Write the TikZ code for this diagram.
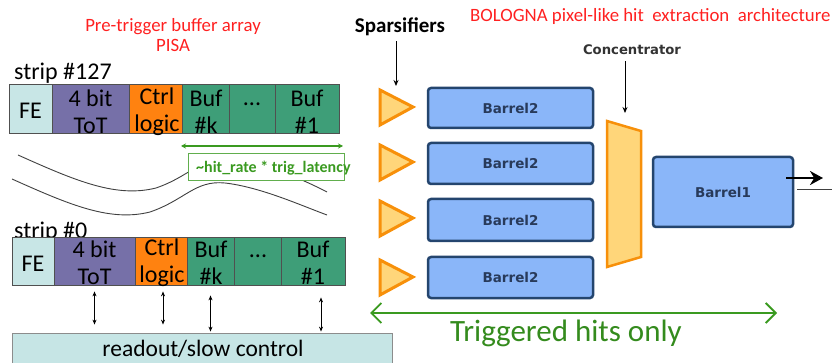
\documentclass[tikz,border=0pt]{standalone}
\usepackage{fontspec}
\setmainfont{Carlito}
\newfontfamily\dvfont{DejaVu Sans}
\usetikzlibrary{fit,arrows.meta,calc}
\definecolor{fecol}{HTML}{C8E6E6}
\definecolor{totcol}{HTML}{7670A8}
\definecolor{ctrlcol}{HTML}{FF8210}
\definecolor{bufcol}{HTML}{3E9E78}
\definecolor{bordcol}{HTML}{505050}
\definecolor{barfill}{HTML}{8AB6F9}
\definecolor{bardraw}{HTML}{24456E}
\definecolor{bartext}{HTML}{283A5A}
\definecolor{triorange}{HTML}{F7900A}
\definecolor{trifill}{HTML}{FFD67A}
\definecolor{titred}{HTML}{FF2020}
\definecolor{grn}{HTML}{3A9A20}
\definecolor{rofill}{HTML}{C6E5E5}
\begin{document}
\begin{tikzpicture}[x=1pt,y=-1pt,
  cell/.style={fit={#1}, inner sep=0pt, draw=bordcol, line width=0.8pt},
  celltxt/.style={inner sep=0pt, align=center, font=\fontsize{24}{27}\selectfont},
  barrel/.style={fit={#1}, inner sep=0pt, draw=bardraw, fill=barfill, line width=2.5pt, rounded corners=3pt},
  bartxt/.style={font=\dvfont\bfseries\fontsize{13.5}{15}\selectfont, text=bartext},
  spars/.style={draw=triorange, fill=trifill, line width=3pt, line join=miter},
  dbl/.style={{Stealth[length=5pt,width=4pt]}-{Stealth[length=5pt,width=4pt]}, line width=0.9pt},
  pointer/.style={-{Stealth[length=6pt,width=5pt]}, line width=0.9pt},
  title/.style={text=titred, font=\fontsize{18.8}{20}\selectfont, inner sep=0pt},
  wave/.style={line width=0.9pt, draw=black!75}
]
\useasboundingbox (0,0) rectangle (832,363);

% titles
\node[title, align=center] (pisa) at (173,35) {Pre-trigger buffer array\\PISA};
\node[title, anchor=west] (bologna) at (470,16) {BOLOGNA pixel-like hit\ \ extraction\ \ architecture};

% strip #127
\node[anchor=base west, inner sep=0pt, font=\fontsize{24}{27}\selectfont] (s127) at (14,80) {strip \#127};
\node[cell={(9,84) (52,133)}, fill=fecol] (fe1) {};
\node[cell={(52,84) (129,133)}, fill=totcol] (tot1) {};
\node[cell={(129,84) (182,133)}, fill=ctrlcol] (ctrl1) {};
\node[cell={(182,84) (229,133)}, fill=bufcol] (bufk1) {};
\node[cell={(229,84) (275,133)}, fill=bufcol] (dots1) {};
\node[cell={(275,84) (339,133)}, fill=bufcol] (buf11) {};
\node[celltxt] (fe1t) at (30.5,111) {FE};
\node[celltxt] (tot1t) at (90.5,112) {4 bit\\ToT};
\node[celltxt] (ctrl1t) at (157,112) {Ctrl\\logic};
\node[celltxt] (bufk1t) at (206,112) {Buf\\\#k};
\node[celltxt] (dots1t) at (252,104) {...};
\node[celltxt] (buf11t) at (307,112) {Buf\\\#1};

% latency arrow and waves
\coordinate (latl) at (181,146);
\coordinate (latr) at (343,146);
\draw[{Stealth[length=5pt,width=5pt]}-{Stealth[length=5pt,width=5pt]}, grn, line width=1.4pt] (latl) -- (latr);
\draw[wave] (18,155) .. controls (76,181) and (116,198) .. (156,188)
  .. controls (191,176) and (201,156) .. (231,159)
  .. controls (266,163) and (306,181) .. (327,192);
\draw[wave] (12,179) .. controls (70,205) and (110,222) .. (150,212)
  .. controls (185,200) and (195,180) .. (225,183)
  .. controls (260,187) and (300,205) .. (327,215);
\node[fit={(188,153) (344,180)}, inner sep=0pt, draw=grn!80, fill=white, line width=0.8pt] (latbox) {};
\node[anchor=west, inner sep=0pt, text=grn, font=\bfseries\fontsize{16}{18}\selectfont] (lattxt) at (196,168) {\textasciitilde hit\_rate * trig\_latency};

% strip #0
\node[anchor=base west, inner sep=0pt, font=\fontsize{24}{27}\selectfont] (s0) at (14,239) {strip \#0};
\node[cell={(12,237) (54,285)}, fill=fecol] (fe0) {};
\node[cell={(54,237) (135,285)}, fill=totcol] (tot0) {};
\node[cell={(135,237) (187,285)}, fill=ctrlcol] (ctrl0) {};
\node[cell={(187,237) (234,285)}, fill=bufcol] (bufk0) {};
\node[cell={(234,237) (281,285)}, fill=bufcol] (dots0) {};
\node[cell={(281,237) (345,285)}, fill=bufcol] (buf10) {};
\node[celltxt] (fe0t) at (33,264) {FE};
\node[celltxt] (tot0t) at (94.5,263) {4 bit\\ToT};
\node[celltxt] (ctrl0t) at (162,263) {Ctrl\\logic};
\node[celltxt] (bufk0t) at (211,263) {Buf\\\#k};
\node[celltxt] (dots0t) at (258,256) {...};
\node[celltxt] (buf10t) at (313,263) {Buf\\\#1};

% readout
\node[fit={(12,333) (392,372)}, inner sep=0pt, draw=black!45, fill=rofill, line width=0.8pt] (readout) {};
\node[inner sep=0pt, font=\fontsize{23.5}{26}\selectfont] (readtxt) at (203,349) {readout/slow control};
\draw[dbl, shorten <=6pt, shorten >=8pt] (tot0.south) -- (tot0.south |- readout.north);
\draw[dbl, shorten <=6pt, shorten >=8pt] ([xshift=2pt]ctrl0.south) -- ([xshift=2pt]ctrl0.south |- readout.north);
\draw[dbl, shorten <=10pt, shorten >=1pt] (bufk0.south) -- (bufk0.south |- readout.north);
\draw[dbl, shorten <=12pt, shorten >=1pt] ([xshift=8pt]buf10.south) -- ([xshift=8pt]buf10.south |- readout.north);

% sparsifiers
\node[inner sep=0pt, font=\bfseries\fontsize{21}{24}\selectfont] (spt) at (400,27) {Sparsifiers};
\draw[spars] (380,90) -- (413,107) -- (380,125) -- cycle;
\draw[spars] (380,145) -- (413,162) -- (380,180) -- cycle;
\draw[spars] (380,201) -- (413,218) -- (380,236) -- cycle;
\draw[spars] (380,260) -- (413,277) -- (380,295) -- cycle;
\coordinate (tri1n) at (396,86);
\draw[pointer] (spt.south -| tri1n) ++(0,5) -- (tri1n);

% barrels
\node[barrel={(428,88) (593,128)}] (b2a) {};
\node[barrel={(428,143) (593,184)}] (b2b) {};
\node[barrel={(428,199) (593,241)}] (b2c) {};
\node[barrel={(428,257) (593,298)}] (b2d) {};
\node[bartxt] (b2at) at (b2a) {Barrel2};
\node[bartxt] (b2bt) at (b2b) {Barrel2};
\node[bartxt] (b2ct) at (b2c) {Barrel2};
\node[bartxt] (b2dt) at (b2d) {Barrel2};

% concentrator
\draw[spars, line width=2.5pt] (607,121) -- (641,131) -- (641,257) -- (607,267) -- cycle;
\node[inner sep=0pt, font=\dvfont\bfseries\fontsize{13.2}{15}\selectfont, text=black!80] (conct) at (632,50) {Concentrator};
\coordinate (concn) at (625,113);
\draw[pointer] (concn |- conct.south) ++(0,6) -- (concn);

% barrel1
\node[barrel={(653,157) (793,227)}] (b1) {};
\node[bartxt] (b1t) at (723,192) {Barrel1};
\coordinate (outend) at (823,178);
\draw[-{Stealth[length=13pt,width=14pt]}, line width=2.4pt] (outend -| 786,0) -- (outend);
\coordinate (lineend) at (832,190);
\draw[line width=1pt, black!75] (lineend -| 797,0) -- (lineend);

% triggered hits
\coordinate (trl) at (370,313);
\coordinate (trr) at (777,313);
\draw[{Straight Barb[length=10pt,width=20pt]}-{Straight Barb[length=10pt,width=20pt]}, grn, line width=1.8pt] (trl) -- (trr);
\node[inner sep=0pt, text=grn!90!black, font=\fontsize{31}{34}\selectfont] (trtxt) at (566,333) {Triggered hits only};
\end{tikzpicture}
\end{document}
